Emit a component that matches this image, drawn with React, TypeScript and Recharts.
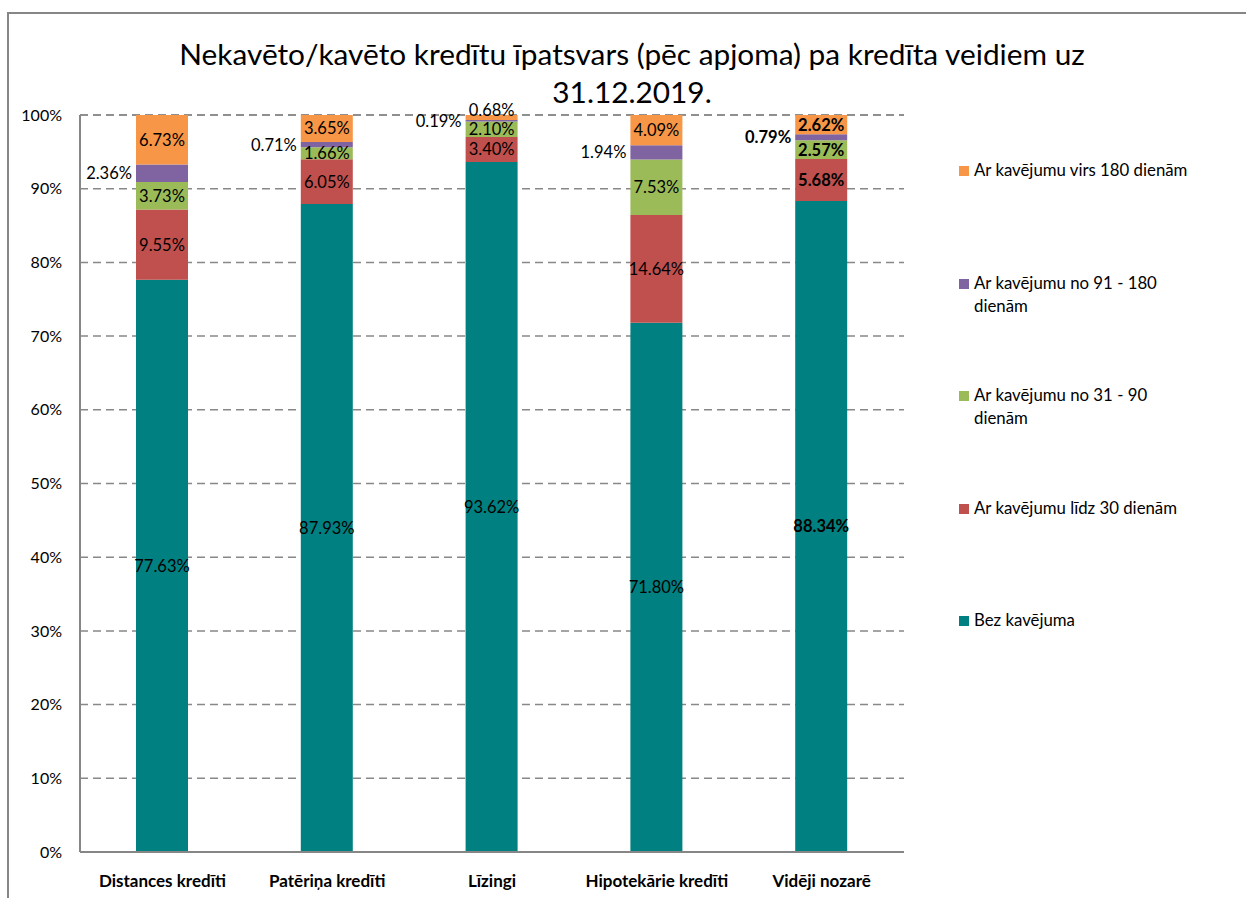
import React from "react";
import { BarChart, Bar, XAxis, YAxis, CartesianGrid, Legend, LabelList } from "recharts";

const categories = ["Distances kredīti", "Patēriņa kredīti", "Līzingi", "Hipotekārie kredīti", "Vidēji nozarē"];
const bezKavejuma = [77.63, 87.93, 93.62, 71.8, 88.34];
const lidz30 = [9.55, 6.05, 3.4, 14.64, 5.68];
const no31lidz90 = [3.73, 1.66, 2.1, 7.53, 2.57];
const no91lidz180 = [2.36, 0.71, 0.19, 1.94, 0.79];
const virs180 = [6.73, 3.65, 0.68, 4.09, 2.62];
const yTicks = [0, 10, 20, 30, 40, 50, 60, 70, 80, 90, 100];
const titleLines = ["Nekavēto/kavēto kredītu īpatsvars (pēc apjoma) pa kredīta veidiem uz", "31.12.2019."];

const series = [
  { key: "bez", name: "Bez kavējuma", color: "#008080", values: bezKavejuma },
  { key: "l30", name: "Ar kavējumu līdz 30 dienām", color: "#C0504D", values: lidz30 },
  { key: "d90", name: "Ar kavējumu no 31 - 90 dienām", color: "#9BBB59", values: no31lidz90 },
  { key: "d180", name: "Ar kavējumu no 91 - 180 dienām", color: "#8064A2", values: no91lidz180 },
  { key: "v180", name: "Ar kavējumu virs 180 dienām", color: "#F79646", values: virs180 },
];

const data = categories.map((c, i) => {
  const row: any = { name: c };
  series.forEach((s) => (row[s.key] = s.values[i]));
  return row;
});

const FONT = "Lato, 'Open Sans', sans-serif";

const makeLabel = (key: string) => (props: any) => {
  const { x, y, width, height, value, index } = props;
  const bold = index === 4;
  let tx = x + width / 2;
  let ty = y + height / 2;
  let anchor: any = "middle";
  if (key === "d180") {
    tx = x - 4;
    anchor = "end";
  }
  if (key === "v180" && index === 2) {
    ty = y - 5;
  }
  return (
    <text
      x={tx}
      y={ty}
      textAnchor={anchor}
      dominantBaseline="central"
      fontFamily={FONT}
      fontSize={16.5}
      fontWeight={bold ? 700 : 400}
      fill="#000"
    >
      {Number(value).toFixed(2) + "%"}
    </text>
  );
};

const LegendContent = () => {
  const items = [...series].reverse();
  return (
    <div style={{ fontFamily: FONT, fontSize: 16.8, color: "#000" }}>
      {items.map((s) => (
        <div key={s.key} style={{ height: 112.5, display: "flex", alignItems: "flex-start" }}>
          <div style={{ width: 10, height: 10, background: s.color, marginTop: 6, marginRight: 5, flex: "none" }} />
          <div style={{ width: 222, lineHeight: "23px", marginTop: -2 }}>{s.name}</div>
        </div>
      ))}
    </div>
  );
};

export default function App() {
  return (
    <div style={{ position: "absolute", left: 0, top: 0, width: 1246, height: 898, background: "#fff" }}>
      <div
        style={{
          position: "absolute",
          left: 7,
          top: 12,
          width: 1246,
          height: 900,
          borderTop: "2px solid #868686",
          borderLeft: "2px solid #868686",
        }}
      />
      <div
        style={{
          position: "absolute",
          left: 132,
          top: 35,
          width: 1000,
          textAlign: "center",
          fontFamily: FONT,
          fontSize: 29.8,
          lineHeight: "38px",
          color: "#000",
        }}
      >
        {titleLines.map((l) => (
          <div key={l}>{l}</div>
        ))}
      </div>
      <div style={{ position: "absolute", left: 0, top: 0 }}>
        <BarChart
          width={1246}
          height={898}
          data={data}
          margin={{ top: 115, left: 20, right: 102, bottom: 6 }}
          barSize={52}
        >
          <CartesianGrid vertical={false} stroke="#888" strokeDasharray="8 5" strokeWidth={1.5} />
          <XAxis
            dataKey="name"
            height={40}
            tickLine={false}
            axisLine={{ stroke: "#868686", strokeWidth: 2 }}
            tickMargin={17}
            tick={{ fontFamily: FONT, fontSize: 17, fontWeight: 700, fill: "#000" }}
            interval={0}
          />
          <YAxis
            width={60}
            domain={[0, 100]}
            ticks={yTicks}
            tickFormatter={(v: number) => v + "%"}
            tickLine={false}
            axisLine={{ stroke: "#868686", strokeWidth: 2 }}
            tickMargin={12}
            tick={{ fontFamily: FONT, fontSize: 16, fill: "#000" }}
            interval={0}
          />
          <Legend
            layout="vertical"
            align="right"
            verticalAlign="top"
            content={<LegendContent />}
            wrapperStyle={{ left: 959, top: 160, width: 240 }}
          />
          {series.map((s) => (
            <Bar key={s.key} dataKey={s.key} name={s.name} stackId="a" fill={s.color} isAnimationActive={false}>
              <LabelList dataKey={s.key} content={makeLabel(s.key)} />
            </Bar>
          ))}
        </BarChart>
      </div>
    </div>
  );
}
